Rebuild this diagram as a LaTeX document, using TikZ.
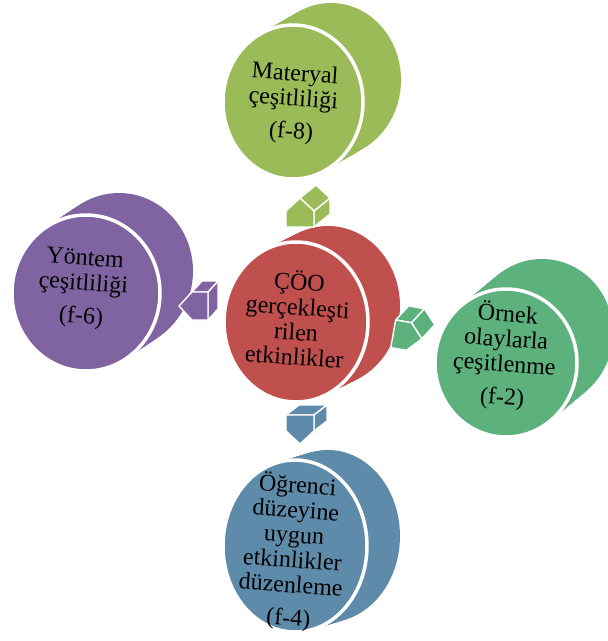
\documentclass[tikz,border=0pt]{standalone}
\usepackage{fontspec}
\setmainfont{Liberation Serif}
\usetikzlibrary{calc,shapes.geometric}

\definecolor{cOlive}{RGB}{155,187,89}
\definecolor{cRed}{RGB}{192,80,77}
\definecolor{cPurple}{RGB}{128,100,162}
\definecolor{cGreen}{RGB}{92,177,125}
\definecolor{cBlue}{RGB}{94,139,170}

\tikzset{
  face/.style={ellipse, draw=white, line width=3.5pt, inner sep=0pt},
  discText/.style={font=\fontsize{24}{25}\selectfont, align=center, rotate=-4, text=black, inner sep=1pt},
  arrowEdge/.style={draw=white, line width=1.4pt, line join=round},
}

% extruded disc: side swept from the front face towards (dx,dy), then the front face
% #1 name, #2 cx, #3 cy, #4 rx, #5 ry, #6 dx, #7 dy, #8 colour
\newcommand\extrudedDisc[8]{%
  \foreach \k in {0,1,...,24}{%
    \fill[#8] ($(#2,#3)+\k/24*(#6,#7)$) ellipse [x radius=#4, y radius=#5];
  }
  \node[face, fill=#8, minimum width=2*#4, minimum height=2*#5] (#1) at (#2,#3) {};
}

% extruded pentagon arrow pointing up before rotation
% #1 name, #2 cx, #3 cy, #4 rotation, #5 dx, #6 dy, #7 colour, #8 visible side faces
\newcommand\blockArrow[8]{%
  \begin{scope}[shift={(#2,#3)}, rotate=#4]
    \coordinate (#1-1) at (-14,13);
    \coordinate (#1-2) at (14,13);
    \coordinate (#1-3) at (14,-3);
    \coordinate (#1-4) at (0,-16);
    \coordinate (#1-5) at (-14,-3);
  \end{scope}
  \filldraw[fill=#7, arrowEdge]
    ($(#1-1)+(#5,#6)$) -- ($(#1-2)+(#5,#6)$) -- ($(#1-3)+(#5,#6)$) --
    ($(#1-4)+(#5,#6)$) -- ($(#1-5)+(#5,#6)$) -- cycle;
  \foreach \i/\j in {#8}{%
    \filldraw[fill=#7, arrowEdge] (#1-\i) -- (#1-\j) -- ($(#1-\j)+(#5,#6)$) -- ($(#1-\i)+(#5,#6)$) -- cycle;
  }
  \filldraw[fill=#7, arrowEdge] (#1-1) -- (#1-2) -- (#1-3) -- (#1-4) -- (#1-5) -- cycle;
}

\begin{document}
\begin{tikzpicture}[x=1pt, y=-1pt]
  \useasboundingbox (0,0) rectangle (608,641);
  \clip (0,0) rectangle (608,641);

  % discs
  \extrudedDisc{top}{293}{102}{70}{77}{38}{-22}{cOlive}
  \extrudedDisc{left}{86}{293}{74}{78}{33}{-22}{cPurple}
  \extrudedDisc{hub}{296}{322}{72}{80}{32}{-16}{cRed}
  \extrudedDisc{right}{506}{363}{71}{74}{36}{-30}{cGreen}
  \extrudedDisc{bottom}{295}{546}{72}{86}{33}{-10}{cBlue}

  % arrows from the hub
  \blockArrow{aTop}{300}{214}{0}{16}{-13}{cOlive}{2/3,3/4}
  \blockArrow{aLeft}{195}{306}{90}{10}{-11}{cPurple}{1/2,2/3}
  \blockArrow{aBottom}{300}{428}{180}{13}{-10}{cBlue}{1/2,5/1}
  \blockArrow{aRight}{406}{336}{-100}{13}{-14}{cGreen}{4/5,5/1}

  % texts
  \node[discText] (tTop) at (293,104) {Materyal\\çeşitliliği\\[8pt](f-8)};
  \node[discText] (tLeft) at (83,289) {Yöntem\\çeşitliliği\\[8pt](f-6)};
  \node[discText] (tHub) at (297,318) {ÇÖO\\gerçekleşti\\rilen\\etkinlikler};
  \node[discText] (tRight) at (505,356) {Örnek\\olaylarla\\çeşitlenme\\[8pt](f-2)};
  \node[discText] (tBottom) at (293,552) {Öğrenci\\düzeyine\\uygun\\etkinlikler\\düzenleme\\[8pt](f-4)};
\end{tikzpicture}
\end{document}
